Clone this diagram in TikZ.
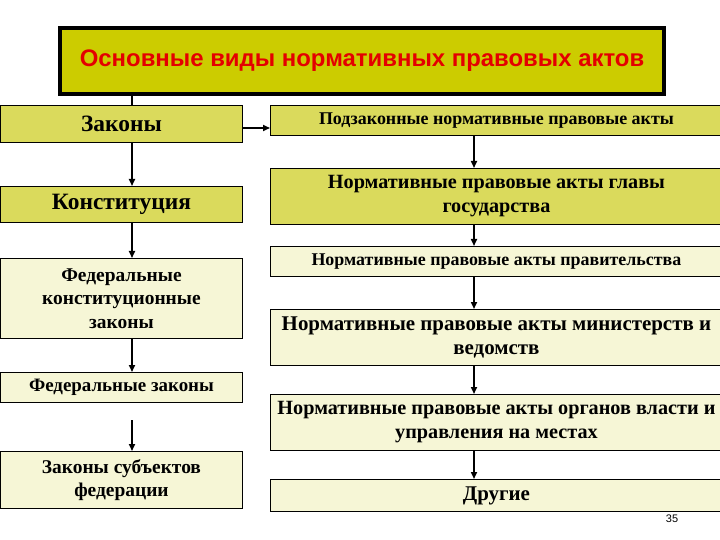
\documentclass[tikz,border=0pt]{standalone}
\usepackage{fontspec}
\setmainfont{Liberation Serif}
\newfontfamily\sansf{Liberation Sans}
\usetikzlibrary{arrows.meta}
\definecolor{titlefill}{RGB}{204,204,0}
\definecolor{darkfill}{RGB}{218,218,92}
\definecolor{lightfill}{RGB}{246,246,214}
\definecolor{titlered}{RGB}{228,0,0}
\begin{document}
\begin{tikzpicture}[x=1bp,y=-1bp,
  box/.style={draw=black, line width=0.9bp, inner sep=0pt, align=center, anchor=north west},
  lbox/.style={box, minimum width=242bp},
  rbox/.style={box, minimum width=452bp},
  dark/.style={fill=darkfill},
  light/.style={fill=lightfill},
  big/.style={font=\bfseries\fontsize{23.5}{26}\selectfont},
  lmid/.style={font=\bfseries\fontsize{19.5}{23.5}\selectfont},
  rmid/.style={font=\bfseries\fontsize{20.3}{24}\selectfont},
  arr/.style={-{Triangle[length=7bp,width=6bp]}, line width=1.6bp},
  lin/.style={line width=1.6bp}]
\useasboundingbox (0,0) rectangle (720,540);
\fill[white] (0,0) rectangle (720,540);
% title
\node[box, draw=black, line width=4bp, fill=titlefill, minimum width=604bp, minimum height=66bp,
  font=\sansf\bfseries\fontsize{24}{26}\selectfont, text=titlered] (title) at (58,26)
  {Основные виды нормативных правовых актов};
% left column
\node[lbox, dark, big, minimum height=37bp] (zak) at (0,105) {Законы};
\node[lbox, dark, big, minimum height=36bp] (kon) at (0,186) {Конституция};
\node[lbox, light, lmid, minimum height=80bp] (fkz) at (0,258) {Федеральные\\конституционные\\законы};
\node[lbox, light, font=\bfseries\fontsize{19}{22}\selectfont, minimum height=30bp] (fz) at (0,372) {Федеральные законы};
\node[lbox, light, lmid, minimum height=57bp] (zsf) at (0,451) {Законы субъектов\\федерации};
% right column
\node[rbox, dark, font=\bfseries\fontsize{18}{20}\selectfont, minimum height=30bp] (podz) at (270,105) {Подзаконные нормативные правовые акты};
\node[rbox, dark, rmid, minimum height=56bp] (glav) at (270,168) {Нормативные правовые акты главы\\государства};
\node[rbox, light, font=\bfseries\fontsize{18}{20}\selectfont, minimum height=30bp] (prav) at (270,246) {Нормативные правовые акты правительства};
\node[rbox, light, font=\bfseries\fontsize{21}{24}\selectfont, minimum height=56bp] (min) at (270,309) {Нормативные правовые акты министерств и\\ведомств};
\node[rbox, light, rmid, minimum height=56bp] (org) at (270,394) {Нормативные правовые акты органов власти и\\управления на местах};
\node[rbox, light, font=\bfseries\fontsize{21}{24}\selectfont, minimum height=32bp] (dr) at (270,479) {Другие};
% page number
\node[font=\sansf\fontsize{11}{12}\selectfont, inner sep=0pt] (pg) at (672,519) {35};
% connectors
\coordinate (lx) at (132,0);
\coordinate (rx) at (474,0);
\coordinate (fzs) at (132,420);
\draw[lin] (lx |- title.south) -- (lx |- zak.north);
\draw[arr] (lx |- zak.south) -- (lx |- kon.north);
\draw[arr] (lx |- kon.south) -- (lx |- fkz.north);
\draw[arr] (lx |- fkz.south) -- (lx |- fz.north);
\draw[arr] (fzs) -- (lx |- zsf.north);
\draw[arr] (zak.east |- 0,128) -- (podz.west |- 0,128);
\draw[arr] (rx |- podz.south) -- (rx |- glav.north);
\draw[arr] (rx |- glav.south) -- (rx |- prav.north);
\draw[arr] (rx |- prav.south) -- (rx |- min.north);
\draw[arr] (rx |- min.south) -- (rx |- org.north);
\draw[arr] (rx |- org.south) -- (rx |- dr.north);
\end{tikzpicture}
\end{document}
